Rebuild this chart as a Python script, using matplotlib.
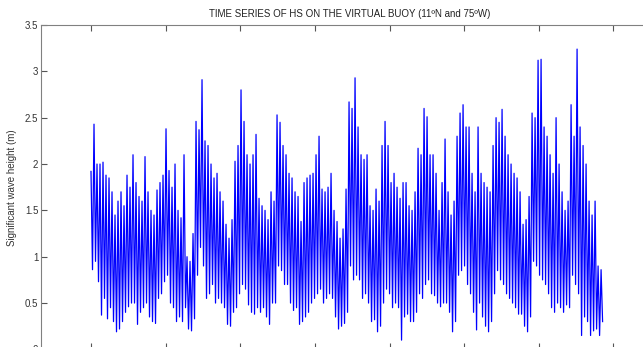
import numpy as np
import matplotlib
matplotlib.use('Agg')
import matplotlib.pyplot as plt

# Envelope of Hs, one column every ~15 days
# (upper = highest value in the column, lower = lowest value)
hs_upper = [1.92, 2.43, 2.00, 2.00, 2.02, 1.88, 1.85, 1.70, 1.45, 1.60,
            1.70, 1.55, 1.88, 1.75, 2.10, 1.80, 1.65, 1.60, 2.08, 1.70,
            1.50, 1.45, 1.72, 1.80, 1.88, 2.38, 1.93, 1.75, 2.00, 1.50,
            1.42, 2.10, 1.00, 0.95, 1.25, 2.46, 2.37, 2.91, 2.25, 2.20,
            2.00, 1.85, 1.90, 1.70, 1.60, 1.35, 1.20, 1.40, 2.03, 2.20,
            2.80, 2.46, 2.10, 2.00, 2.10, 2.32, 1.63, 1.55, 1.50, 1.40,
            1.70, 1.60, 2.53, 2.45, 2.20, 2.10, 1.90, 1.85, 1.70, 1.65,
            1.38, 1.80, 1.85, 1.88, 1.90, 2.10, 2.30, 1.73, 1.70, 1.75,
            1.90, 1.50, 1.38, 1.20, 1.30, 1.73, 2.67, 2.60, 2.93, 2.40,
            2.10, 2.05, 2.10, 1.55, 1.50, 1.73, 1.60, 2.20, 2.46, 2.20,
            1.80, 1.90, 1.75, 1.63, 1.80, 1.80, 1.55, 1.50, 1.70, 2.17,
            2.10, 2.60, 2.51, 2.10, 2.10, 1.90, 1.50, 1.80, 2.27, 1.70,
            1.45, 1.60, 2.30, 2.55, 2.64, 2.40, 2.40, 1.90, 1.70, 2.40,
            1.90, 1.80, 1.75, 1.70, 2.20, 2.50, 2.45, 2.59, 2.30, 2.10,
            2.00, 1.90, 1.85, 1.70, 1.35, 1.40, 1.65, 2.55, 2.50, 3.12,
            3.13, 2.40, 2.30, 2.10, 1.90, 2.50, 2.00, 1.70, 1.50, 1.60,
            2.64, 2.30, 3.24, 2.40, 2.20, 2.00, 1.60, 1.45, 1.60, 0.90,
            0.86]
hs_lower = [0.86, 0.95, 0.73, 0.37, 0.55, 0.33, 0.45, 0.30, 0.19, 0.22,
            0.30, 0.40, 0.46, 0.50, 0.50, 0.27, 0.40, 0.45, 0.50, 0.35,
            0.30, 0.28, 0.55, 0.60, 0.73, 0.80, 0.50, 0.45, 0.30, 0.35,
            0.30, 0.45, 0.22, 0.20, 0.33, 0.80, 1.10, 0.90, 0.55, 0.60,
            0.70, 0.50, 0.55, 0.50, 0.45, 0.27, 0.25, 0.40, 0.45, 0.60,
            0.70, 0.65, 0.48, 0.40, 0.38, 0.45, 0.40, 0.45, 0.35, 0.27,
            0.50, 0.50, 0.90, 0.85, 0.70, 0.70, 0.50, 0.42, 0.45, 0.27,
            0.30, 0.35, 0.40, 0.50, 0.55, 0.60, 0.65, 0.50, 0.55, 0.60,
            0.55, 0.35, 0.22, 0.25, 0.28, 0.40, 0.90, 0.75, 0.80, 0.75,
            0.55, 0.60, 0.50, 0.30, 0.32, 0.19, 0.25, 0.50, 0.65, 0.60,
            0.45, 0.50, 0.45, 0.10, 0.35, 0.38, 0.30, 0.30, 0.40, 0.60,
            0.55, 0.70, 0.75, 0.60, 0.58, 0.50, 0.46, 0.50, 0.50, 0.40,
            0.19, 0.30, 0.80, 0.85, 0.90, 0.70, 0.60, 0.40, 0.21, 0.50,
            0.35, 0.25, 0.19, 0.30, 0.60, 0.85, 0.75, 0.70, 0.60, 0.55,
            0.50, 0.45, 0.38, 0.38, 0.25, 0.19, 0.35, 0.95, 0.90, 0.80,
            0.75, 0.70, 0.60, 0.45, 0.40, 0.50, 0.45, 0.40, 0.48, 0.45,
            0.80, 0.70, 0.60, 0.15, 0.35, 0.30, 0.15, 0.20, 0.22, 0.15,
            0.30]

anio_inicio = 2000
paso = 0.0402  # anos entre colunas
anos_ticks = list(range(2000, 2008))

# serie intercalada: maximo e minimo de cada coluna
t = anio_inicio + np.arange(len(hs_upper)) * paso
tempo = np.empty(2 * len(t))
tempo[0::2] = t
tempo[1::2] = t + paso / 2
hs = np.empty(2 * len(t))
hs[0::2] = hs_upper
hs[1::2] = hs_lower

plt.rcParams['font.family'] = ['Liberation Sans', 'DejaVu Sans']

fig = plt.figure(figsize=(6.43, 3.47), dpi=100)
ax = fig.add_axes([41 / 643, -2.4 / 347, 618 / 643, 324.4 / 347])

ax.plot(tempo, hs, color=(0, 0, 1), linewidth=0.9)

ax.set_xlim(1999.33, 2007.61)
ax.set_ylim(0, 3.5)
ax.set_xticks(anos_ticks)
ax.set_xticklabels([])
ax.set_yticks(np.arange(0, 3.51, 0.5))
ax.set_yticklabels(['0', '0.5', '1', '1.5', '2', '2.5', '3', '3.5'])
ax.tick_params(direction='in', length=4, width=0.8, colors='#555555',
               labelcolor='#333333', labelsize=7, pad=2,
               top=True, right=True)
for s in ax.spines.values():
    s.set_color('#808080')
    s.set_linewidth(0.8)

ax.set_title('TIME SERIES OF HS ON THE VIRTUAL BUOY (11ºN and 75ºW)',
             fontsize=7, color='#222222', pad=6)
ax.set_ylabel('Significant wave height (m)', fontsize=7, color='#333333',
              labelpad=6)

fig.savefig('out.png', dpi=100)
